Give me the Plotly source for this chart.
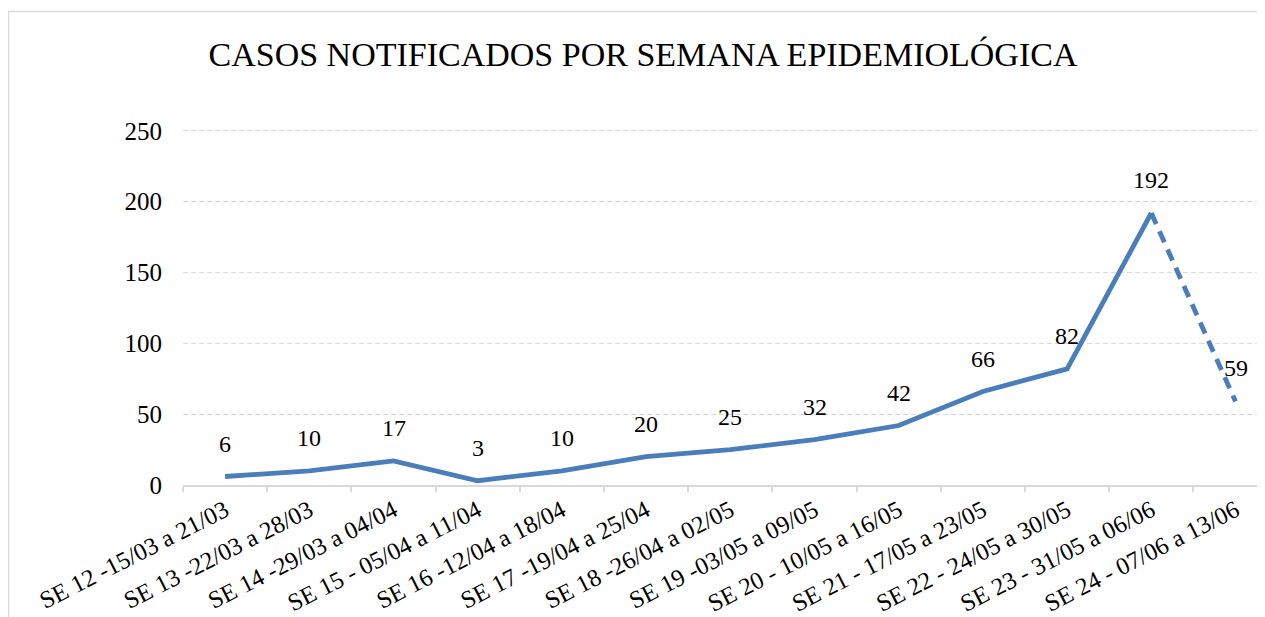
import plotly.graph_objects as go

categories = [
    "SE 12 -15/03 a 21/03", "SE 13 -22/03 a 28/03", "SE 14 -29/03 a 04/04",
    "SE 15 - 05/04 a 11/04", "SE 16 -12/04 a 18/04", "SE 17 -19/04 a 25/04",
    "SE 18 -26/04 a 02/05", "SE 19 -03/05 a 09/05", "SE 20 - 10/05 a 16/05",
    "SE 21 - 17/05 a 23/05", "SE 22 - 24/05 a 30/05", "SE 23 - 31/05 a 06/06",
    "SE 24 - 07/06 a 13/06",
]
casos = [6, 10, 17, 3, 10, 20, 25, 32, 42, 66, 82, 192, 59]
y_ticks = [0, 50, 100, 150, 200, 250]
title_text = "CASOS NOTIFICADOS POR SEMANA EPIDEMIOLÓGICA"

FONT = "Liberation Serif, DejaVu Serif, serif"
BLUE = "#4A7EBB"
GRID = "#d9d9d9"

fig = go.Figure()
fig.add_trace(go.Scatter(
    x=categories[:-1], y=casos[:-1], mode="lines",
    line=dict(color=BLUE, width=4.8), hoverinfo="skip", showlegend=False,
))
fig.add_trace(go.Scatter(
    x=categories[-2:], y=casos[-2:], mode="lines",
    line=dict(color=BLUE, width=4.8, dash="12px,8px"), hoverinfo="skip", showlegend=False,
))

for c, v in zip(categories, casos):
    fig.add_annotation(x=c, y=v, text=str(v), showarrow=False, yshift=33,
                       font=dict(family=FONT, size=24, color="#000000"))

# page body has an 8px margin, so positions are offset by -8
OFF = 8
W, H = 1265, 617
YMAX = 252
L, R = 183 - OFF, 0
T = int(round(131 - OFF - (YMAX - 250) * 354 / 250))
B = H - (485 - OFF)
pw = W - L - R
ph = H - T - B
cat_px = 84.2
xr_end = pw / cat_px - 0.5

def px_x(p):
    return (p - OFF - L) / pw

def px_y(p):
    return (H - B - (p - OFF)) / ph

fig.add_shape(type="rect", xref="paper", yref="paper",
              x0=px_x(8.5), x1=px_x(1320), y0=px_y(660), y1=px_y(11.5),
              line=dict(color=GRID, width=1.5), fillcolor="rgba(0,0,0,0)", layer="below")

fig.update_layout(
    width=W, height=H,
    margin=dict(l=L, r=R, t=T, b=B, pad=0),
    paper_bgcolor="white", plot_bgcolor="white",
    title=dict(text=title_text, x=(643 - OFF) / W, xanchor="center",
               y=1 - (54 - OFF) / H, yanchor="middle", xref="container", yref="container",
               font=dict(family=FONT, size=34, color="#000000")),
    showlegend=False,
    xaxis=dict(
        type="category", range=[-0.5, xr_end], tickson="boundaries",
        ticks="outside", ticklen=5, tickcolor=GRID, tickwidth=1.5,
        showline=True, linecolor=GRID, linewidth=1.5,
        showgrid=False, zeroline=False, tickangle=-27, automargin=False,
        tickfont=dict(family=FONT, size=24.5, color="#000000"),
    ),
    yaxis=dict(
        range=[0, YMAX], tickvals=y_ticks, ticktext=[str(t) for t in y_ticks],
        showgrid=True, gridcolor=GRID, gridwidth=1, griddash="5px,3px",
        zeroline=False, showline=False, ticks="", automargin=False,
        ticklabelstandoff=20,
        tickfont=dict(family=FONT, size=25, color="#000000"),
    ),
)

fig.write_html("out.html")
